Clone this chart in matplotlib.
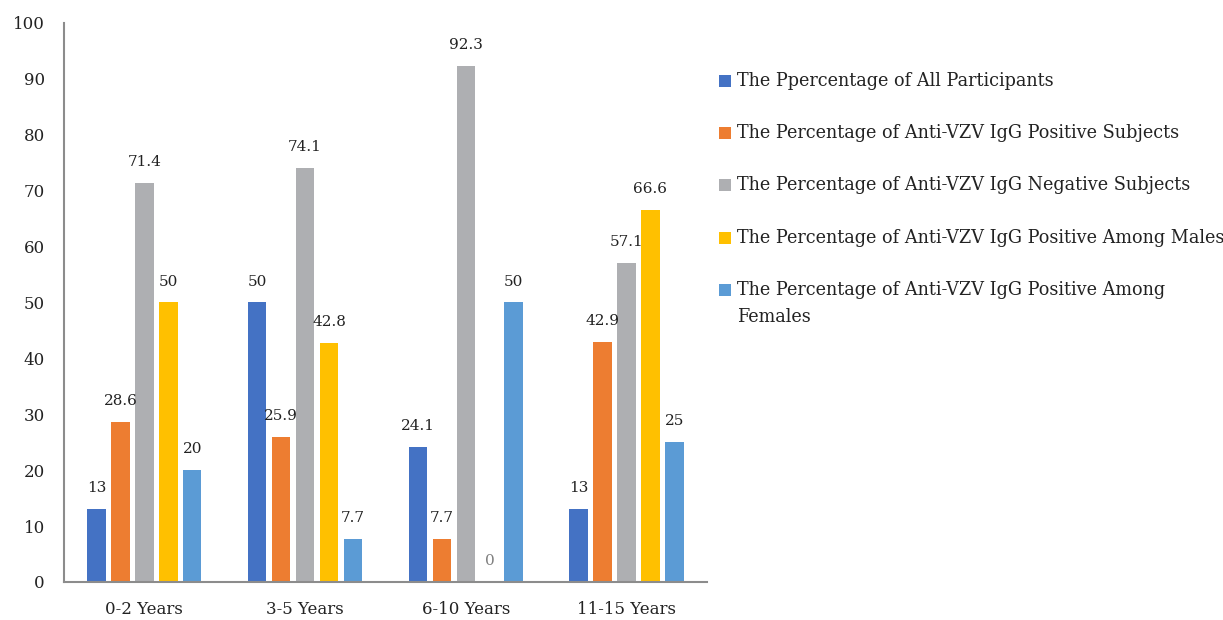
import matplotlib.pyplot as plt
import numpy as np
from matplotlib.patches import Rectangle

plt.rcParams["font.family"] = ["DejaVu Serif"]

groups = ["0-2 Years", "3-5 Years", "6-10 Years", "11-15 Years"]
series_labels = [
    "The Ppercentage of All Participants",
    "The Percentage of Anti-VZV IgG Positive Subjects",
    "The Percentage of Anti-VZV IgG Negative Subjects",
    "The Percentage of Anti-VZV IgG Positive Among Males",
    "The Percentage of Anti-VZV IgG Positive Among\nFemales",
]
all_participants = [13, 50, 24.1, 13]
positive_subjects = [28.6, 25.9, 7.7, 42.9]
negative_subjects = [71.4, 74.1, 92.3, 57.1]
positive_males = [50, 42.8, 0, 66.6]
positive_females = [20, 7.7, 50, 25]
colors = ["#4472C4", "#ED7D31", "#AEAFB2", "#FFC000", "#5B9BD5"]

series = [all_participants, positive_subjects, negative_subjects, positive_males, positive_females]

fig = plt.figure(figsize=(12.23, 6.2), dpi=100)
ax = fig.add_axes([0.0523, 0.0613, 0.5257, 0.9017])

x = np.arange(len(groups))
pitch = 0.149
width = 0.115
for i, (vals, color) in enumerate(zip(series, colors)):
    pos = x + (i - 2) * pitch
    ax.bar(pos, vals, width=width, color=color)
    for p, v in zip(pos, vals):
        ax.annotate(f"{v:g}", (p, v), xytext=(0, 10), textcoords="offset points",
                    ha="center", va="bottom", fontsize=11,
                    color="#7f7f7f" if v == 0 else "#222222")

ax.set_xlim(-0.5, len(groups) - 0.5)
ax.set_ylim(0, 100)
ax.set_yticks(range(0, 101, 10))
ax.set_xticks(x)
ax.set_xticklabels(groups)
ax.tick_params(axis="both", length=0, labelsize=12, colors="#222222")
ax.tick_params(axis="y", pad=13.7)
ax.tick_params(axis="x", pad=14)
for side in ["top", "right"]:
    ax.spines[side].set_visible(False)
for side in ["left", "bottom"]:
    ax.spines[side].set_color("#8c8c8c")
    ax.spines[side].set_linewidth(1.5)

# legend drawn by hand so the wrapped label keeps its square on the first line
ys = [81, 133, 185, 238, 290]
for label, color, y in zip(series_labels, colors, ys):
    fy = 1 - y / 620
    fig.patches.append(Rectangle((719 / 1223, fy - 6 / 620), 12 / 1223, 12 / 620,
                                 transform=fig.transFigure, facecolor=color))
    for k, line in enumerate(label.split("\n")):
        fig.text(737 / 1223, fy - k * 27 / 620, line, ha="left", va="center",
                 fontsize=12.7, color="#222222")

fig.savefig("out.png", dpi=100)
